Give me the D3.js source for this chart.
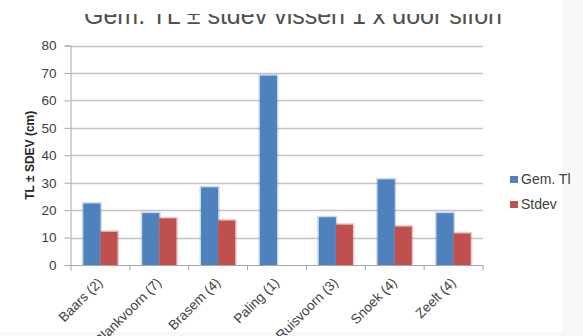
<!DOCTYPE html>
<html>
<head>
<meta charset="utf-8">
<script src="https://cdn.jsdelivr.net/npm/d3@7"></script>
<style>
  body { margin: 0; background: #fff; }
  svg { display: block; font-family: "Liberation Sans", Arial, sans-serif; }
</style>
</head>
<body>
<div id="chart"></div>
<script>
var categories = ["Baars (2)", "Blankvoorn (7)", "Brasem (4)", "Paling (1)", "Ruisvoorn (3)", "Snoek (4)", "Zeelt (4)"],
    seriesNames = ["Gem. Tl", "Stdev"],
    gemTl = [22.4, 18.9, 28.3, 69.0, 17.4, 31.2, 18.9],
    stdev = [12.1, 17.0, 16.2, null, 14.7, 14.0, 11.5],
    yTicks = [0, 10, 20, 30, 40, 50, 60, 70, 80];

var WIDTH = 583,
    HEIGHT = 336,
    COLORS = ["#4f81bd", "#c0504d"],
    margin = {left: 71, right: 100, top: 45.5, bottom: 71};

var svg = d3.select("#chart").append("svg")
  .attr("width", WIDTH)
  .attr("height", HEIGHT);

// faint frame like the office chart area
svg.append("rect").attr("width", WIDTH).attr("height", HEIGHT).attr("fill", "#f8f8f8");
svg.append("rect").attr("width", 562).attr("height", 332).attr("fill", "#fff");

var x0 = d3.scaleBand()
  .domain(categories)
  .range([margin.left, WIDTH - margin.right]);

var x1 = d3.scaleBand()
  .domain(seriesNames)
  .range([x0.bandwidth() * 0.21, x0.bandwidth() * 0.79]);

var y = d3.scaleLinear()
  .domain([0, 80])
  .range([HEIGHT - margin.bottom, margin.top]);

// title, top half clipped like the source
svg.append("clipPath").attr("id", "titleClip")
  .append("rect").attr("x", 0).attr("y", 14).attr("width", WIDTH).attr("height", 30);
svg.append("text")
  .attr("clip-path", "url(#titleClip)")
  .attr("x", 293).attr("y", 24)
  .attr("text-anchor", "middle")
  .attr("font-size", 25)
  .attr("fill", "#505050")
  .text("Gem. TL \u00b1 stdev vissen 1 x door sifon");

// gridlines
svg.append("g").selectAll("line")
  .data(yTicks.slice(1))
  .join("line")
  .attr("x1", margin.left).attr("x2", WIDTH - margin.right)
  .attr("y1", function(d) { return Math.round(y(d)) + 0.5; })
  .attr("y2", function(d) { return Math.round(y(d)) + 0.5; })
  .attr("stroke", "#c4c4c4").attr("stroke-width", 1.5);

// y axis
var yAxis = svg.append("g")
  .attr("transform", "translate(" + (margin.left - 0.5) + ",0)")
  .call(d3.axisLeft(y).tickValues(yTicks).tickSize(6).tickPadding(8));
yAxis.select(".domain").attr("stroke", "#a6a6a6");
yAxis.selectAll(".tick line").attr("stroke", "#a6a6a6");
yAxis.selectAll(".tick text").attr("font-size", 13.5).attr("fill", "#404040")
  .attr("font-family", "'Liberation Sans', Arial, sans-serif");

// y label
svg.append("text")
  .attr("transform", "translate(34," + y(40) + ") rotate(-90)")
  .attr("text-anchor", "middle")
  .attr("font-size", 12)
  .attr("font-weight", "bold")
  .attr("fill", "#262626")
  .text("TL \u00b1 SDEV (cm)");

// bars
var rows = categories.map(function(c, i) {
  return {cat: c, vals: [{s: seriesNames[0], v: gemTl[i]}, {s: seriesNames[1], v: stdev[i]}]};
});

var groups = svg.append("g").selectAll("g")
  .data(rows)
  .join("g")
  .attr("transform", function(d) { return "translate(" + x0(d.cat) + ",0)"; });

groups.selectAll("rect.glow")
  .data(function(d) { return d.vals.filter(function(v) { return v.v != null; }); })
  .join("rect")
  .attr("class", "glow")
  .attr("x", function(d) { return x1(d.s) - 1.5; })
  .attr("y", function(d) { return y(d.v) - 1.5; })
  .attr("width", x1.bandwidth() + 3)
  .attr("height", function(d) { return y(0) - y(d.v) + 1.5; })
  .attr("fill", function(d) { return d.s === seriesNames[0] ? COLORS[0] : COLORS[1]; })
  .attr("opacity", 0.3);

groups.selectAll("rect.bar")
  .data(function(d) { return d.vals.filter(function(v) { return v.v != null; }); })
  .join("rect")
  .attr("class", "bar")
  .attr("x", function(d) { return x1(d.s); })
  .attr("y", function(d) { return y(d.v); })
  .attr("width", x1.bandwidth())
  .attr("height", function(d) { return y(0) - y(d.v); })
  .attr("fill", function(d) { return d.s === seriesNames[0] ? COLORS[0] : COLORS[1]; });

// x axis
var xAxis = svg.append("g")
  .attr("transform", "translate(0," + (y(0) + 0.5) + ")");
xAxis.append("line")
  .attr("x1", margin.left - 6).attr("x2", WIDTH - margin.right)
  .attr("stroke", "#a6a6a6");
xAxis.selectAll("line.tk")
  .data(categories.concat([null]))
  .join("line")
  .attr("class", "tk")
  .attr("x1", function(d) { return d === null ? WIDTH - margin.right : x0(d); })
  .attr("x2", function(d) { return d === null ? WIDTH - margin.right : x0(d); })
  .attr("y1", 0).attr("y2", 5)
  .attr("stroke", "#a6a6a6");
xAxis.selectAll("text")
  .data(categories)
  .join("text")
  .attr("transform", function(d) {
    return "translate(" + (x0(d) + x0.bandwidth() / 2 + 3) + ",18) rotate(-45)";
  })
  .attr("text-anchor", "end")
  .attr("font-size", 13.5)
  .attr("fill", "#404040")
  .text(function(d) { return d; });

// legend
var legend = svg.append("g").attr("transform", "translate(510,176)");
var li = legend.selectAll("g")
  .data(seriesNames)
  .join("g")
  .attr("transform", function(d, i) { return "translate(0," + (i * 25) + ")"; });
li.append("rect").attr("width", 8).attr("height", 7)
  .attr("fill", function(d, i) { return COLORS[i]; });
li.append("text").attr("x", 11).attr("y", 7.5)
  .attr("font-size", 14).attr("fill", "#404040")
  .text(function(d) { return d; });
</script>
</body>
</html>
